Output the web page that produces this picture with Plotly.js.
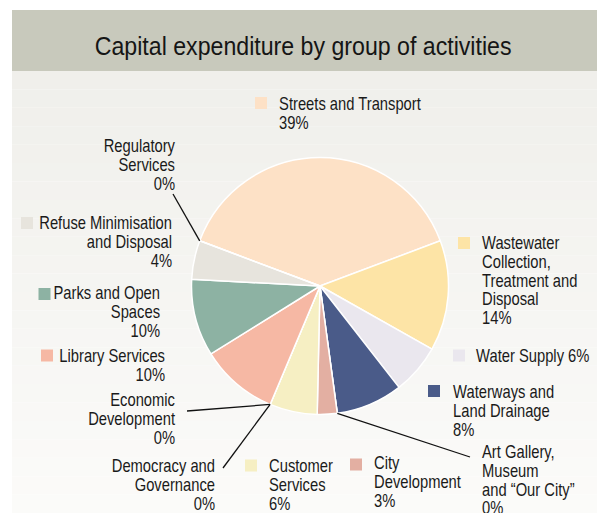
<!DOCTYPE html>
<html>
<head>
<meta charset="utf-8">
<script src="https://cdn.plot.ly/plotly-3.0.1.min.js"></script>
<style>html,body{margin:0;padding:0;background:#fff}</style>
</head>
<body>
<div id="chart" style="width:597px;height:513px"></div>
<script>
// slices, clockwise from the top
const categories = ["Streets and Transport", "Wastewater Collection, Treatment and Disposal", "Water Supply",
  "Waterways and Land Drainage", "Art Gallery, Museum and \u201cOur City\u201d", "City Development",
  "Customer Services", "Democracy and Governance", "Economic Development", "Library Services",
  "Parks and Open Spaces", "Refuse Minimisation and Disposal", "Regulatory Services"];
const values = [38.6, 13.9, 6.3, 8.4, 0, 2.5, 6.0, 0, 0, 9.8, 9.7, 4.9, 0];
const pctLabels = ["39%", "14%", "6%", "8%", "0%", "3%", "6%", "0%", "0%", "10%", "10%", "4%", "0%"];
const labelLines = [
  ["Streets and Transport"],
  ["Wastewater", "Collection,", "Treatment and", "Disposal"],
  ["Water Supply"],
  ["Waterways and", "Land Drainage"],
  ["Art Gallery,", "Museum", "and \u201cOur City\u201d"],
  ["City", "Development"],
  ["Customer", "Services"],
  ["Democracy and", "Governance"],
  ["Economic", "Development"],
  ["Library Services"],
  ["Parks and Open", "Spaces"],
  ["Refuse Minimisation", "and Disposal"],
  ["Regulatory", "Services"]
];
const colors = ["#fde1c6", "#fde4a6", "#eae7ee", "#4a5b89", "#cccccc", "#e3afa2",
  "#f6efc3", "#cccccc", "#cccccc", "#f6b8a4", "#8db2a3", "#e7e4dd", "#cccccc"];

// label placement in pixels (layout only)
const place = [
  {x: 277, y: 104, a: "left", key: [261, 103]},
  {x: 480, y: 243, a: "left", key: [464, 243]},
  {x: 474, y: 356, a: "left", key: [459, 355.5], inline: true},
  {x: 451, y: 392, a: "left", key: [434, 391]},
  {x: 480, y: 452, a: "left", lead: [470, 457]},
  {x: 372, y: 463, a: "left", key: [356, 464.5]},
  {x: 267, y: 466, a: "left", key: [251, 465.5]},
  {x: 217, y: 466, a: "right", lead: [223, 468]},
  {x: 177, y: 400, a: "right", lead: [187, 411]},
  {x: 167, y: 356, a: "right", key: [47, 355.5]},
  {x: 162, y: 293, a: "right", key: [44.5, 294]},
  {x: 174, y: 223, a: "right", key: [27, 223]},
  {x: 177, y: 146, a: "right", lead: [173, 194]}
];

const W = 597, H = 513;
const cx = 320, cy = 286, R = 128.5;
const LINE = 18.8;
const NARROW = 0.82;   // squeeze text to a condensed look
const FONT = "Liberation Sans, Arial, sans-serif";
const X = px => px / W;
const Y = py => 1 - py / H;

const total = values.reduce((s, v) => s + v, 0);
const rotation = -values[0] / total * 180;

let shapes = [];
// title bar and shaded panel
shapes.push({type: "rect", xref: "paper", yref: "paper", layer: "below", x0: X(12), x1: 1, y0: Y(71), y1: Y(10),
  fillcolor: "#c8c9bc", line: {width: 0}});
let bands = 24;
for (let i = 0; i < bands; i++) {
  let t = i / (bands - 1);
  let c = [240 + 11 * t, 239 + 12 * t, 235 + 14 * t].map(Math.round);
  shapes.push({type: "rect", xref: "paper", yref: "paper", layer: "below",
    x0: X(12), x1: 1, y0: Y(71 + (i + 1) * (H - 71) / bands), y1: Y(71 + i * (H - 71) / bands),
    fillcolor: "rgb(" + c.join(",") + ")", line: {width: 0}});
}

let annotations = [{
  text: "Capital expenditure by group of activities", xref: "paper", yref: "paper",
  x: X(303), y: Y(46), xanchor: "center", yanchor: "middle", showarrow: false,
  font: {family: FONT, size: 26, color: "#151515"}
}];
let squeeze = [0.89];

let cum = 0;
categories.forEach((name, i) => {
  let p = place[i];
  let lines = labelLines[i].slice();
  if (p.inline) lines[lines.length - 1] += " " + pctLabels[i];
  else lines.push(pctLabels[i]);
  lines.forEach((t, k) => {
    annotations.push({text: t, xref: "paper", yref: "paper", x: X(p.x), y: Y(p.y + k * LINE),
      xanchor: p.a, yanchor: "middle", showarrow: false,
      font: {family: FONT, size: 18, color: "#1a1a1a"}});
    squeeze.push(NARROW);
  });
  if (p.key) {
    shapes.push({type: "rect", xref: "paper", yref: "paper",
      x0: X(p.key[0] - 6), x1: X(p.key[0] + 6), y0: Y(p.key[1] + 6), y1: Y(p.key[1] - 6),
      fillcolor: colors[i], line: {width: 0}});
  }
  if (p.lead) {
    // edge point of the (empty) slice on the pie
    let ang = (rotation + cum / total * 360) * Math.PI / 180;
    let ex = cx + R * Math.sin(ang), ey = cy - R * Math.cos(ang);
    shapes.push({type: "line", xref: "paper", yref: "paper",
      x0: X(p.lead[0]), y0: Y(p.lead[1]), x1: X(ex), y1: Y(ey),
      line: {color: "#111", width: 1.3}});
  }
  cum += values[i];
});

let trace = {
  type: "pie", values: values, labels: categories, sort: false, direction: "clockwise",
  rotation: rotation, textinfo: "none", hoverinfo: "skip",
  marker: {colors: colors, line: {color: "#ffffff", width: 1.5}},
  domain: {x: [X(cx - R), X(cx + R)], y: [Y(cy + R), Y(cy - R)]}
};

let layout = {
  width: W, height: H, margin: {l: 0, r: 0, t: 0, b: 0},
  paper_bgcolor: "#ffffff", showlegend: false,
  shapes: shapes, annotations: annotations
};

Plotly.newPlot("chart", [trace], layout, {displayModeBar: false, staticPlot: true}).then(() => {
  // narrow each text around its anchor edge
  document.querySelectorAll("#chart g.annotation").forEach(g => {
    let i = +g.getAttribute("data-index");
    let t = g.querySelector("text.annotation-text");
    if (!t) return;
    let b = t.getBBox();
    let a = annotations[i].xanchor;
    let ax = a === "left" ? b.x : a === "right" ? b.x + b.width : b.x + b.width / 2;
    t.setAttribute("transform", `translate(${ax},0) scale(${squeeze[i]},1) translate(${-ax},0)`);
  });
});
</script>
</body>
</html>
